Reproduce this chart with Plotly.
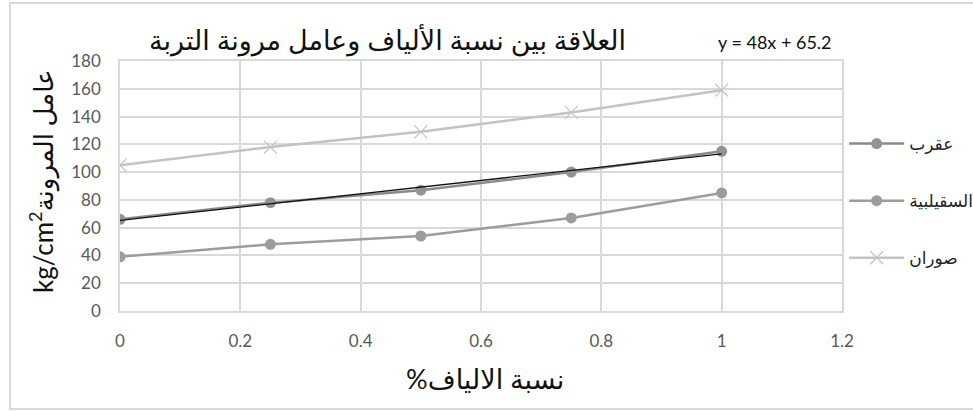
import numpy as np
import plotly.graph_objects as go

# Fibre content (%) and modulus of elasticity (kg/cm2) for three soils
fiber_pct = [0, 0.25, 0.5, 0.75, 1.0]
aqrab = [66, 78, 87, 100, 115]
suqaylabiyah = [39, 48, 54, 67, 85]
suran = [105, 118, 129, 143, 159]

series_names = ["عقرب", "السقيلبية", "صوران"]
x_ticks = [0, 0.2, 0.4, 0.6, 0.8, 1.0, 1.2]
y_ticks = [0, 20, 40, 60, 80, 100, 120, 140, 160, 180]

title_text = "العلاقة بين نسبة الألياف وعامل مرونة التربة"
x_title = "%نسبة الالياف"
y_title = "kg/cm<sup>2</sup>عامل المرونة"

# Linear trend of the first series
slope, intercept = np.polyfit(fiber_pct, aqrab, 1)
trend_x = [min(fiber_pct), max(fiber_pct)]
trend_y = [slope * v + intercept for v in trend_x]
eq_text = f"y = {slope:.0f}x + {intercept:.1f}"

FONT = "Lato, DejaVu Sans, sans-serif"

fig = go.Figure()
fig.add_trace(go.Scatter(
    x=fiber_pct, y=aqrab, name=series_names[0], mode="lines+markers",
    line=dict(color="#8a8a8a", width=2.5),
    marker=dict(symbol="circle", size=11, color="#939393"),
    legendgroup="a",
))
fig.add_trace(go.Scatter(
    x=fiber_pct, y=suqaylabiyah, name=series_names[1], mode="lines+markers",
    line=dict(color="#9c9c9c", width=2.5),
    marker=dict(symbol="circle", size=11, color="#9c9c9c"),
    legendgroup="b",
))
fig.add_trace(go.Scatter(
    x=fiber_pct, y=suran, name=series_names[2], mode="lines+markers",
    line=dict(color="#c3c3c3", width=2.5),
    marker=dict(symbol="x-thin", size=13, line=dict(color="#c3c3c3", width=1.2)),
    legendgroup="c",
))
fig.add_trace(go.Scatter(
    x=trend_x, y=trend_y, mode="lines", showlegend=False,
    line=dict(color="#111111", width=1.3),
))

grid = "#d9d9d9"
fig.update_xaxes(
    range=[0, 1.2], tickvals=x_ticks, ticktext=[f"{v:g}" for v in x_ticks],
    showgrid=True, gridcolor=grid, gridwidth=1.5,
    showline=True, linecolor=grid, linewidth=1.5, mirror=True,
    zeroline=False, ticks="", ticklabelstandoff=14,
    tickfont=dict(family=FONT, size=17, color="#595959"),
)
fig.update_yaxes(
    range=[0, 180], tickvals=y_ticks,
    showgrid=True, gridcolor=grid, gridwidth=1.5,
    showline=True, linecolor=grid, linewidth=1.5, mirror=True,
    zeroline=False, ticks="", ticklabelstandoff=14,
    tickfont=dict(family=FONT, size=17, color="#595959"),
)

fig.update_layout(
    width=973, height=411,
    margin=dict(l=120, r=131, t=61, b=100, autoexpand=False),
    paper_bgcolor="white", plot_bgcolor="white",
    font=dict(family=FONT),
    showlegend=True,
    legend=dict(
        x=1.003, y=0.74, xanchor="left", yanchor="top",
        traceorder="grouped", tracegroupgap=32,
        itemwidth=55,
        font=dict(family=FONT, size=17, color="#222222"),
        bgcolor="rgba(0,0,0,0)",
    ),
    annotations=[
        dict(text=title_text, x=0.37, y=1.084, xref="paper", yref="paper",
             xanchor="center", yanchor="middle", showarrow=False,
             font=dict(family=FONT, size=27, color="#111111")),
        dict(text=eq_text, x=0.907, y=1.076, xref="paper", yref="paper",
             xanchor="center", yanchor="middle", showarrow=False,
             font=dict(family=FONT, size=18, color="#111111")),
        dict(text=x_title, x=0.505, y=-0.268, xref="paper", yref="paper",
             xanchor="center", yanchor="middle", showarrow=False,
             font=dict(family=FONT, size=27, color="#111111")),
        dict(text=y_title, x=-0.108, y=0.52, xref="paper", yref="paper",
             xanchor="center", yanchor="middle", showarrow=False,
             textangle=-90,
             font=dict(family=FONT, size=26, color="#111111")),
    ],
    shapes=[
        dict(type="rect", xref="paper", yref="paper",
             x0=-0.1524, x1=1.25, y0=-0.392, y1=1.232,
             line=dict(color="#d9d9d9", width=2), fillcolor="rgba(0,0,0,0)",
             layer="below"),
    ],
)

fig.write_html("out.html")
